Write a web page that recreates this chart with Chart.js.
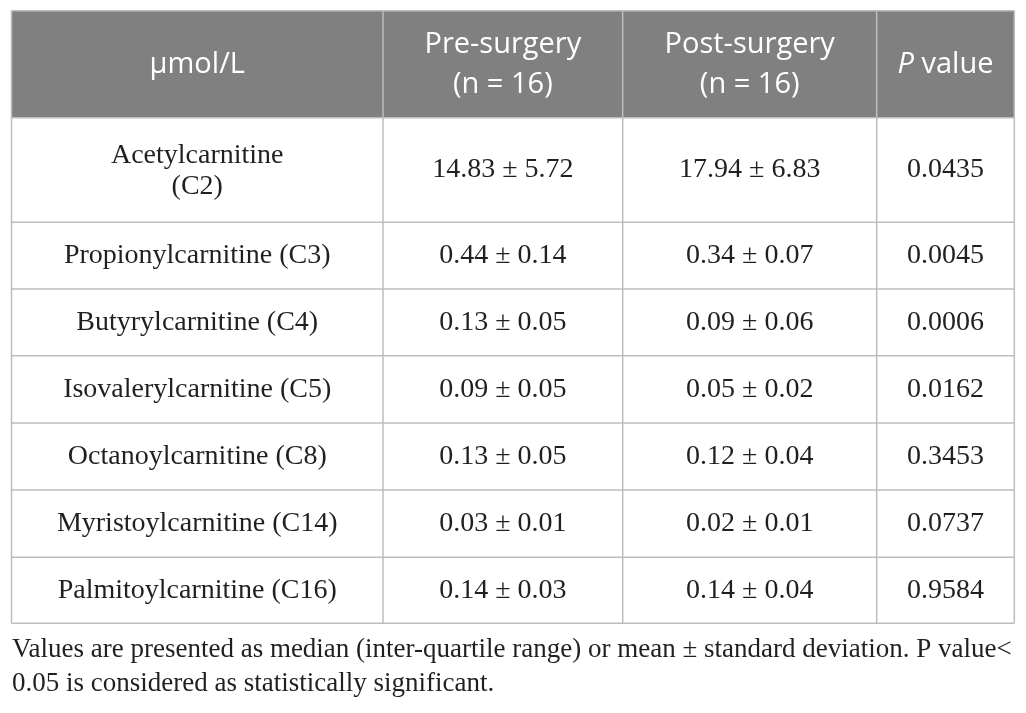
<!DOCTYPE html>
<html>
<head>
<meta charset="utf-8">
<script src="https://cdn.jsdelivr.net/npm/chart.js@4"></script>
<style>
  html, body { margin: 0; padding: 0; background: #fff; }
  #wrap { width: 1026px; height: 713px; }
</style>
</head>
<body>
<div id="wrap"><canvas id="table-chart"></canvas></div>
<script>
// table content
const headerLabels = ["μmol/L", "Pre-surgery\n(n = 16)", "Post-surgery\n(n = 16)", "P value"];
const metabolites = [
    "Acetylcarnitine\n(C2)",
    "Propionylcarnitine (C3)",
    "Butyrylcarnitine (C4)",
    "Isovalerylcarnitine (C5)",
    "Octanoylcarnitine (C8)",
    "Myristoylcarnitine (C14)",
    "Palmitoylcarnitine (C16)"
];
const preMean = [14.83, 0.44, 0.13, 0.09, 0.13, 0.03, 0.14];
const preSd = [5.72, 0.14, 0.05, 0.05, 0.05, 0.01, 0.03];
const postMean = [17.94, 0.34, 0.09, 0.05, 0.12, 0.02, 0.14];
const postSd = [6.83, 0.07, 0.06, 0.02, 0.04, 0.01, 0.04];
const pValues = [0.0435, 0.0045, 0.0006, 0.0162, 0.3453, 0.0737, 0.9584];
const footnote = [
    "Values are presented as median (inter-quartile range) or mean ± standard deviation. P value<",
    "0.05 is considered as statistically significant."
];

// grid edges in scale units (x = columns, y = rows, header first)
const colEdges = [0, 371.5, 611.2, 865.2, 1002.8];
const rowEdges = [0, 107, 211.6, 278.3, 345, 412.3, 479.4, 546.6, 612.6];

const sansFont = "29px 'Open Sans'";
const serifFont = "28px 'Liberation Serif'";

function cellText(row, col) {
    if (col === 0) return metabolites[row];
    if (col === 1) return preMean[row].toFixed(2) + " ± " + preSd[row].toFixed(2);
    if (col === 2) return postMean[row].toFixed(2) + " ± " + postSd[row].toFixed(2);
    return pValues[row].toFixed(4);
}

// draws the table cells using the chart's own x/y scales
const tablePlugin = {
    id: 'tablePlugin',
    afterDraw(chart) {
        const ctx = chart.ctx;
        const xs = chart.scales.x, ys = chart.scales.y;
        const px = v => xs.getPixelForValue(v);
        const py = v => ys.getPixelForValue(v);
        const nCols = colEdges.length - 1;
        const nRows = rowEdges.length - 1;
        ctx.save();

        // header background
        ctx.fillStyle = "#808080";
        ctx.fillRect(px(colEdges[0]), py(rowEdges[0]), px(colEdges[nCols]) - px(colEdges[0]), py(rowEdges[1]) - py(rowEdges[0]));

        // grid lines
        ctx.lineWidth = 1.5;
        ctx.strokeStyle = "#bdbdbd";
        for (var r = 0; r <= nRows; r++) {
            ctx.beginPath();
            ctx.moveTo(px(colEdges[0]), py(rowEdges[r]));
            ctx.lineTo(px(colEdges[nCols]), py(rowEdges[r]));
            ctx.stroke();
        }
        for (var c = 0; c <= nCols; c++) {
            ctx.beginPath();
            ctx.moveTo(px(colEdges[c]), py(rowEdges[0]));
            ctx.lineTo(px(colEdges[c]), py(rowEdges[nRows]));
            ctx.stroke();
        }

        ctx.textAlign = "center";
        ctx.textBaseline = "middle";

        // header texts
        ctx.fillStyle = "#ffffff";
        ctx.font = sansFont;
        for (var c = 0; c < nCols; c++) {
            var cx = (px(colEdges[c]) + px(colEdges[c + 1])) / 2;
            var cy = (py(rowEdges[0]) + py(rowEdges[1])) / 2 + 1;
            var lines = headerLabels[c].split("\n");
            if (c === nCols - 1) {
                // italic P
                ctx.font = "italic " + sansFont;
                var wP = ctx.measureText("P").width;
                ctx.font = sansFont;
                var wRest = ctx.measureText(" value").width;
                var x0 = cx - (wP + wRest) / 2;
                ctx.textAlign = "left";
                ctx.font = "italic " + sansFont;
                ctx.fillText("P", x0, cy);
                ctx.font = sansFont;
                ctx.fillText(" value", x0 + wP, cy);
                ctx.textAlign = "center";
                continue;
            }
            var lh = 40;
            for (var k = 0; k < lines.length; k++) {
                ctx.fillText(lines[k], cx, cy + (k - (lines.length - 1) / 2) * lh);
            }
        }

        // body texts
        ctx.fillStyle = "#231f20";
        ctx.font = serifFont;
        for (var r = 0; r < metabolites.length; r++) {
            var top = py(rowEdges[r + 1]), bot = py(rowEdges[r + 2]);
            var cy = (top + bot) / 2;
            for (var c = 0; c < nCols; c++) {
                var cx = (px(colEdges[c]) + px(colEdges[c + 1])) / 2;
                var lines = cellText(r, c).split("\n");
                var lh = 31;
                var off = lines.length > 1 ? 1.5 : 0;
                for (var k = 0; k < lines.length; k++) {
                    ctx.fillText(lines[k], cx, cy + off + (k - (lines.length - 1) / 2) * lh);
                }
            }
        }

        // footnote below the table
        ctx.textAlign = "left";
        ctx.font = "27px 'Liberation Serif'";
        var fy = py(rowEdges[nRows]);
        ctx.fillText(footnote[0], px(colEdges[0]) + 0.5, fy + 27);
        ctx.fillText(footnote[1], px(colEdges[0]) + 0.5, fy + 61);
        ctx.restore();
    }
};

const config = {
    type: 'scatter',
    data: { datasets: [{ data: [], pointRadius: 0 }] },
    options: {
        responsive: true,
        maintainAspectRatio: false,
        animation: false,
        events: [],
        layout: { padding: { left: 11.5, right: 11.7, top: 10.7, bottom: 89.7 } },
        plugins: { legend: { display: false }, tooltip: { enabled: false } },
        scales: {
            x: { type: 'linear', display: false, min: colEdges[0], max: colEdges[colEdges.length - 1] },
            y: { type: 'linear', display: false, reverse: true, min: rowEdges[0], max: rowEdges[rowEdges.length - 1] }
        }
    },
    plugins: [tablePlugin]
};

const tableChart = new Chart(document.getElementById('table-chart'), config);
</script>
</body>
</html>
